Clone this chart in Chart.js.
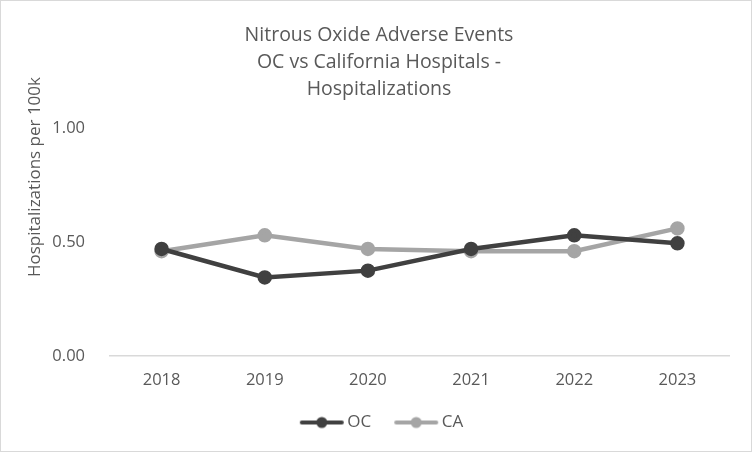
<!DOCTYPE html>
<html>
<head>
<meta charset="utf-8">
<script src="https://cdn.jsdelivr.net/npm/chart.js@4.4.1/dist/chart.umd.min.js"></script>
<style>
  html, body { margin: 0; padding: 0; background: #fff; }
  #wrap { width: 750px; height: 450px; border: 1px solid #d9d9d9; }
</style>
</head>
<body>
<div id="wrap"><canvas id="chart" width="750" height="450"></canvas></div>
<script>
// ================== DATA ==================
const years = ["2018", "2019", "2020", "2021", "2022", "2023"];
const ocValues = [0.47, 0.345, 0.375, 0.47, 0.53, 0.495];
const caValues = [0.46, 0.53, 0.47, 0.46, 0.46, 0.56];
const yTicks = [0, 0.5, 1.0];
const titleLines = ["Nitrous Oxide Adverse Events", "OC vs California Hospitals -", "Hospitalizations"];
const yTitle = "Hospitalizations per 100k";

// ================== STYLE ==================
const FONT = "'Open Sans', sans-serif";
const TEXT = "#595959";
const OC_COLOR = "#404040";
const CA_COLOR = "#a5a5a5";

// legend marker: line with dot, drawn right of centre so it sits close to the text
function legendIcon(color) {
  const c = document.createElement("canvas");
  c.width = 56; c.height = 14;
  const g = c.getContext("2d");
  g.strokeStyle = color; g.lineWidth = 4; g.lineCap = "round";
  g.beginPath(); g.moveTo(13, 7); g.lineTo(53, 7); g.stroke();
  g.fillStyle = color;
  g.beginPath(); g.arc(33, 7, 5.5, 0, Math.PI * 2); g.fill();
  return c;
}

// y axis title sits above the plot centre, like the Excel original
const yTitlePlugin = {
  id: "yTitle",
  afterDraw(chart) {
    const g = chart.ctx;
    g.save();
    g.translate(34, 176);
    g.rotate(-Math.PI / 2);
    g.fillStyle = TEXT;
    g.font = `17px ${FONT}`;
    g.textAlign = "center";
    g.textBaseline = "middle";
    g.fillText(yTitle, 0, 0);
    g.restore();
  }
};

const ctx = document.getElementById("chart").getContext("2d");
new Chart(ctx, {
  type: "line",
  data: {
    labels: years,
    datasets: [
      { label: "OC", data: ocValues, borderColor: OC_COLOR, backgroundColor: OC_COLOR,
        borderWidth: 4.5, pointRadius: 5, pointHoverRadius: 5, tension: 0, pointStyle: "circle" },
      { label: "CA", data: caValues, borderColor: CA_COLOR, backgroundColor: CA_COLOR,
        borderWidth: 4.5, pointRadius: 5, pointHoverRadius: 5, tension: 0, pointStyle: "circle" }
    ]
  },
  plugins: [yTitlePlugin],
  options: {
    responsive: false,
    animation: false,
    layout: { padding: { left: 28, right: 22, top: 8, bottom: 10 } },
    plugins: {
      title: {
        display: true, text: titleLines, color: TEXT,
        font: { family: FONT, size: 19.5, weight: "normal", lineHeight: 1.385 },
        padding: { top: 12.5, bottom: 25.5 }
      },
      legend: {
        position: "bottom",
        labels: {
          color: TEXT, font: { family: FONT, size: 17 },
          usePointStyle: true, pointStyleWidth: 44, padding: 18,
          generateLabels: (chart) => chart.data.datasets.map((d, i) => ({
            text: d.label, fontColor: TEXT, pointStyle: legendIcon(d.borderColor),
            datasetIndex: i, lineWidth: 0, strokeStyle: "transparent", fillStyle: "transparent"
          }))
        }
      },
      tooltip: { enabled: false }
    },
    scales: {
      x: {
        offset: true,
        grid: { display: false },
        border: { display: true, color: "#d9d9d9", width: 1.5 },
        ticks: { color: TEXT, font: { family: FONT, size: 16.5 }, padding: 6 }
      },
      y: {
        min: 0, max: 1,
        afterBuildTicks: (s) => { s.ticks = yTicks.map(v => ({ value: v })); },
        afterFit: (s) => { s.width = 81; },
        grid: { display: false },
        border: { display: false },
        ticks: { color: TEXT, font: { family: FONT, size: 16.5 }, padding: 17,
                  callback: (v) => Number(v).toFixed(2) }
      }
    }
  }
});
</script>
</body>
</html>
